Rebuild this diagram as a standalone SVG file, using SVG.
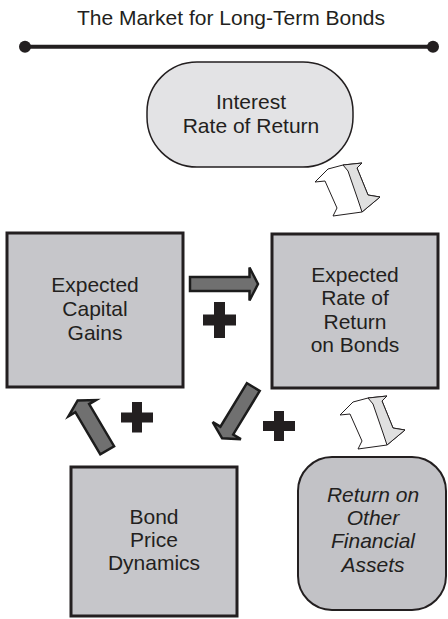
<svg xmlns="http://www.w3.org/2000/svg" width="448" height="619" viewBox="0 0 448 619">
<style>
  .t{font-family:"Liberation Sans",Arial,sans-serif;font-size:21px;fill:#231f20;text-anchor:middle}
  .it{font-style:italic}
  .box{fill:#c6c6ca;stroke:#231f20;stroke-width:3}
  .pill{fill:#e3e3e5;stroke:#231f20;stroke-width:1.5}
  .rbox{fill:#c2c2c6;stroke:#231f20;stroke-width:2}
  .arr{fill:#707070;stroke:#1c1c1c;stroke-width:2.5;stroke-linejoin:miter}
  .plus{fill:#231f20}
  .daw{fill:#ffffff;stroke:#231f20;stroke-width:1;stroke-linejoin:round}
  .dag{fill:#e0e0e0;stroke:#231f20;stroke-width:1;stroke-linejoin:round}
</style>
<defs>
  <g id="da">
    <path class="daw" d="M0,20 L13,7 L28,3 L47,1 L42,6 L53,33 L65,35 L47,50 L18,54 L22,46 L10,19 Z"/>
    <path class="dag" d="M28,3 L47,1 L42,6 L53,33 L65,35 L47,50 L43,38 L33,9 Z"/>
  </g>
</defs>

<g id="title">
  <text class="t" x="231" y="25">The Market for Long-Term Bonds</text>
  <line x1="25" y1="46.7" x2="433" y2="46.7" stroke="#231f20" stroke-width="4"/>
  <circle cx="25" cy="46.7" r="6" fill="#231f20"/>
  <circle cx="433" cy="46.7" r="6" fill="#231f20"/>
</g>

<g id="interest-rate">
  <rect class="pill" x="147" y="62" width="206" height="105" rx="50" ry="50"/>
  <text class="t" x="251" y="109">Interest</text>
  <text class="t" x="251" y="133">Rate of Return</text>
</g>

<g id="capital-gains">
  <rect class="box" x="7" y="233" width="176" height="154"/>
  <text class="t" x="95" y="292">Expected</text>
  <text class="t" x="95" y="316">Capital</text>
  <text class="t" x="95" y="339.5">Gains</text>
</g>

<g id="expected-return">
  <rect class="box" x="272" y="234" width="166" height="154"/>
  <text class="t" x="355" y="282">Expected</text>
  <text class="t" x="355" y="305">Rate of</text>
  <text class="t" x="355" y="328.5">Return</text>
  <text class="t" x="355" y="352">on Bonds</text>
</g>

<g id="bond-price">
  <rect class="box" x="71" y="467" width="166" height="149"/>
  <text class="t" x="154" y="524">Bond</text>
  <text class="t" x="154" y="547">Price</text>
  <text class="t" x="154" y="570">Dynamics</text>
</g>

<g id="other-assets">
  <rect class="rbox" x="298" y="457" width="148" height="153" rx="34" ry="34"/>
  <text class="t it" x="373" y="502">Return on</text>
  <text class="t it" x="373" y="525">Other</text>
  <text class="t it" x="373" y="548">Financial</text>
  <text class="t it" x="373" y="571.5">Assets</text>
</g>

<g id="connectors">
  <path class="arr" transform="translate(190,284)" d="M0,-7 L59.5,-7 L59.5,-16.5 L68,0 L59.5,16.5 L59.5,7 L0,7 Z"/>
  <path class="arr" transform="translate(253.3,387) rotate(121.3)" d="M0,-7.5 L51,-7.5 L51,-16.5 L60,0 L51,16.5 L51,7.5 L0,7.5 Z"/>
  <path class="arr" transform="translate(107.2,450.3) rotate(-120.6)" d="M0,-8 L49,-8 L49,-16 L58,0 L49,16 L49,8 L0,8 Z"/>
  <use href="#da" transform="translate(315,162)"/>
  <use href="#da" transform="translate(340,395)"/>
  <path class="plus" d="M214,302 h11 v12.5 h11 v11 h-11 v12.5 h-11 v-12.5 h-11 v-11 h11 Z"/>
  <path class="plus" d="M132,402 h10 v10.5 h11 v10 h-11 v10 h-10 v-10 h-11 v-10 h11 Z"/>
  <path class="plus" d="M274,411 h10 v10 h11 v10 h-11 v10 h-10 v-10 h-11 v-10 h11 Z"/>
</g>
</svg>
